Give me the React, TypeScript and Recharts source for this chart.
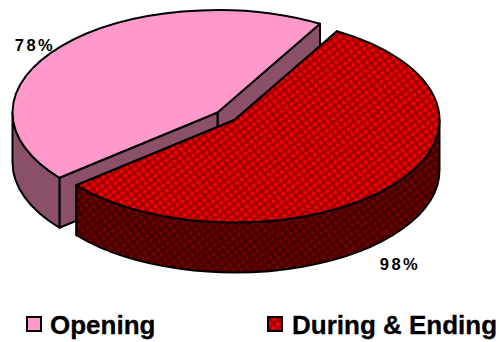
import React from 'react'
import { PieChart, Pie, Legend } from 'recharts'

// Pie drawn as an exploded 3D disc: each sector gets a top face, cut faces and a rim.

const CATEGORIES = ['Opening', 'During & Ending']
const VALUES = [78, 98]

const WIDTH = 499
const HEIGHT = 342
const RADIUS = 205
const SQUASH = 0.5
const DEPTH = 50
const FONT = '"Liberation Sans", Arial, sans-serif'

const TOP_FILLS = ['#ff99cc', 'url(#dotsTop)']
const SIDE_FILLS = ['#8a5068', 'url(#dotsSide)']
const SLICE_SHIFT = [
  { dx: -7.5, dy: -4.5 },
  { dx: 9.5, dy: 3 },
]
const LABEL_AT = [
  { x: 35, y: 51 },
  { x: 400, y: 270 },
]

const chartData = CATEGORIES.map((name, i) => ({ name, value: VALUES[i] }))

const DotPattern = ({ id, base, dot }: { id: string; base: string; dot: string }) => (
  <pattern id={id} width="8.6" height="8.6" patternUnits="userSpaceOnUse" patternTransform="rotate(8)">
    <rect width="8.6" height="8.6" fill={base} />
    <rect x="0.3" y="0.3" width="3.7" height="3.7" rx="0.9" fill={dot} />
    <rect x="4.6" y="4.6" width="3.7" height="3.7" rx="0.9" fill={dot} />
  </pattern>
)

const Slice3D = (props: any) => {
  const { cx, cy, startAngle, endAngle, index } = props
  const ox = cx + SLICE_SHIFT[index].dx
  const oy = cy + SLICE_SHIFT[index].dy
  const lo = Math.min(startAngle, endAngle)
  const hi = Math.max(startAngle, endAngle)

  const at = (deg: number, drop = 0) => {
    const a = (deg * Math.PI) / 180
    return [ox + RADIUS * Math.cos(a), oy - RADIUS * SQUASH * Math.sin(a) + drop]
  }
  const arc = (from: number, to: number, drop = 0, sweep = 0) => {
    const [x, y] = at(to, drop)
    const large = Math.abs(to - from) > 180 ? 1 : 0
    return `A${RADIUS} ${RADIUS * SQUASH} 0 ${large} ${sweep} ${x} ${y}`
  }
  const [sx, sy] = at(lo)
  const [ex, ey] = at(hi)

  // only the part of the rim between 180 and 360 degrees faces the viewer
  const rimFrom = Math.max(lo, 180)
  const rimTo = Math.min(hi, 360)
  const [rx0, ry0] = at(rimFrom)
  const [rx1, ry1] = at(rimTo, DEPTH)
  const rim = `M${rx0} ${ry0}${arc(rimFrom, rimTo)}L${rx1} ${ry1}${arc(rimTo, rimFrom, DEPTH, 1)}Z`

  const edge = { stroke: '#000', strokeWidth: 2, strokeLinejoin: 'round' as const }
  return (
    <g>
      <path
        d={`M${ox} ${oy}L${sx} ${sy}L${sx} ${sy + DEPTH}L${ox} ${oy + DEPTH}Z`}
        fill={SIDE_FILLS[index]}
        {...edge}
      />
      <path
        d={`M${ox} ${oy}L${ex} ${ey}L${ex} ${ey + DEPTH}L${ox} ${oy + DEPTH}Z`}
        fill={SIDE_FILLS[index]}
        {...edge}
      />
      <path d={rim} fill={SIDE_FILLS[index]} {...edge} />
      <path d={`M${ox} ${oy}L${sx} ${sy}${arc(lo, hi)}Z`} fill={TOP_FILLS[index]} {...edge} />
    </g>
  )
}

const renderLabel = (props: any) => {
  const { index, value } = props
  return (
    <text
      x={LABEL_AT[index].x}
      y={LABEL_AT[index].y}
      textAnchor="middle"
      fontFamily={FONT}
      fontWeight="bold"
      fontSize={16.5}
      letterSpacing={2.5}
      fill="#000"
    >
      {value}%
    </text>
  )
}

const SWATCH_X = [27, 268]
const LEGEND_TEXT_X = [50, 292]

const PieLegend = () => (
  <svg width={WIDTH} height={40} style={{ display: 'block' }}>
    {CATEGORIES.map((name, i) => (
      <g key={name}>
        <rect
          x={SWATCH_X[i]}
          y={8}
          width={14}
          height={14}
          fill={TOP_FILLS[i]}
          stroke="#000"
          strokeWidth={2}
        />
        <text
          x={LEGEND_TEXT_X[i]}
          y={25}
          fontFamily={FONT}
          fontWeight="bold"
          fontSize={26}
          fill="#000"
          stroke="#000"
          strokeWidth={0.3}
        >
          {name}
        </text>
      </g>
    ))}
  </svg>
)

export default function App() {
  return (
    <div style={{ position: 'absolute', left: 0, top: 0, width: WIDTH, height: HEIGHT, background: '#fff' }}>
      <PieChart width={WIDTH} height={HEIGHT} margin={{ top: 0, right: 0, bottom: 0, left: 0 }}>
        <defs>
          <DotPattern id="dotsTop" base="#a00000" dot="#f80000" />
          <DotPattern id="dotsSide" base="#440000" dot="#760000" />
        </defs>
        <Pie
          data={chartData}
          dataKey="value"
          nameKey="name"
          cx={225}
          cy={117}
          outerRadius={RADIUS}
          startAngle={60}
          endAngle={420}
          shape={Slice3D}
          label={renderLabel}
          labelLine={false}
          isAnimationActive={false}
        />
        <Legend
          content={<PieLegend />}
          wrapperStyle={{ left: 0, top: 309, width: WIDTH, height: 40 }}
        />
      </PieChart>
    </div>
  )
}
